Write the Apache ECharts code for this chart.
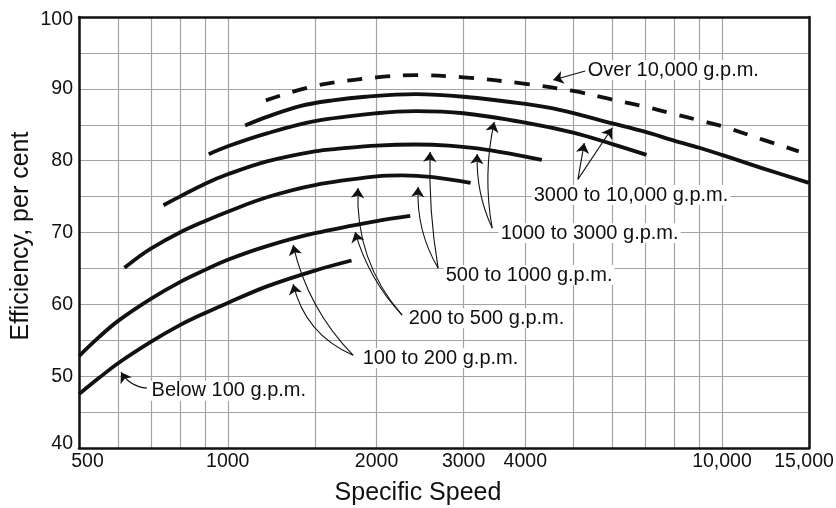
<!DOCTYPE html>
<html><head><meta charset="utf-8">
<script src="https://cdn.jsdelivr.net/npm/echarts@6/dist/echarts.min.js"></script>
<style>html,body{margin:0;padding:0;background:#fff}#c{width:836px;height:508px}</style>
</head><body><div id="c"></div>
<script>
const FONT = '"Liberation Sans", Arial, Helvetica, sans-serif';
const INK = '#111111';
const GRIDC = '#a3a3a3';

// axis values
const xGridValues = [500,600,700,800,900,1000,1500,2000,3000,4000,5000,6000,7000,8000,9000,10000,15000];
const xTickLabels = [500,1000,2000,3000,4000,10000,15000];
const yMin = 40, yMax = 100, yStep = 5;

// curves: [specific speed, efficiency %]
const curveA = [[500,47.5],[550,49.8],[600,51.8],[700,54.8],[800,57.1],[900,58.8],[1000,60.2],[1200,62.5],[1500,64.7],[1780,66.1]];
const curveB = [[500,52.8],[550,55.5],[600,57.7],[700,60.8],[800,63.1],[900,64.8],[1000,66.2],[1200,68.1],[1500,69.9],[2000,71.6],[2340,72.3]];
const curveC = [[618,65.1],[660,66.6],[700,67.8],[800,70.0],[900,71.6],[1000,72.9],[1200,74.9],[1500,76.6],[2000,77.8],[2250,77.95],[2600,77.7],[3100,76.9]];
const curveD = [[741,73.8],[800,75.0],[900,76.8],[1000,78.1],[1200,79.9],[1500,81.3],[1700,81.7],[2000,82.1],[2400,82.25],[2800,82.1],[3200,81.7],[3700,81.0],[4320,80.1]];
const curveE = [[915,80.9],[1000,82.0],[1200,83.8],[1500,85.5],[2000,86.6],[2400,86.9],[3000,86.6],[4000,85.3],[5000,83.9],[6000,82.3],[7035,80.8]];
const curveF = [[1084,84.9],[1200,86.1],[1400,87.6],[1630,88.4],[1900,88.9],[2400,89.25],[3000,88.9],[4000,87.9],[4716,87.05],[6000,85.2],[7000,84.0],[8000,82.8],[9000,81.8],[10000,80.8],[12000,79.0],[15000,76.9]];
const curveOver = [[1194,88.4],[1500,90.4],[2000,91.6],[2400,91.9],[3000,91.6],[4000,90.7],[5000,89.7],[6000,88.5],[7000,87.5],[8000,86.5],[9000,85.6],[10000,84.8],[12000,83.0],[14300,81.3]];

// annotations (data coordinates)
const labelTexts = ['Over 10,000 g.p.m.','3000 to 10,000 g.p.m.','1000 to 3000 g.p.m.','500 to 1000 g.p.m.','200 to 500 g.p.m.','100 to 200 g.p.m.','Below 100 g.p.m.'];
const labelAnchors = [[5288,92.62],[4111,75.21],[3525,69.92],[2728,64.07],[2296,58.08],[1853,52.51],[693,47.98]];
const arrowTails = [[5288,92.48],[5110,77.4],[5110,77.4],[3428,70.61],[3428,70.61],[2665,65.04],[2665,65.04],[2253,58.5],[2253,58.5],[1793,52.92],[1793,52.92],[686,48.33]];
const arrowTips  = [[4555,91.23],[5264,82.45],[5995,84.54],[3197,80.92],[3460,85.38],[2428,76.32],[2567,81.2],[1835,76.18],[1810,70.06],[1356,68.25],[1356,62.81],[608,50.56]];
const arrowBend  = [0,0,0,0.12,0.1,0.15,0.05,0.2,0.12,0.14,0.25,0.25];

const chart = echarts.init(document.getElementById('c'), null, {renderer:'canvas'});

const curveStyle = {color: INK, width: 3.8, cap: 'butt'};
function curveSeries(data, dashed){
  return {
    type:'line', data:data, smooth:0.35, showSymbol:false, symbol:'none', silent:true, z:3,
    lineStyle: dashed ? Object.assign({}, curveStyle, {type:[15,13]}) : curveStyle
  };
}

const tickFont = {color: INK, fontSize: 19.5, fontFamily: FONT, lineHeight: 20};

const option = {
  animation:false,
  backgroundColor:'#fff',
  grid:{left:79, right:27, top:17, bottom:60, containLabel:false, outerBoundsMode:'none'},
  xAxis:[{
    type:'log', logBase:10, min:500, max:15000, position:'bottom',
    axisLine:{show:true, onZero:false, lineStyle:{color:INK, width:2.5}},
    axisTick:{show:false, customValues:xGridValues},
    splitLine:{show:true, lineStyle:{color:GRIDC, width:1.2}},
    minorTick:{show:false}, minorSplitLine:{show:false},
    axisLabel:Object.assign({
      customValues:xTickLabels, margin:4,
      formatter:function(v){
        if (v===500) return '{l|500}';
        if (v===15000) return '{r|15,000}';
        if (v===10000) return '10,000';
        return String(v);
      },
      rich:{
        l:Object.assign({padding:[0,0,0,17]}, tickFont),
        r:Object.assign({padding:[0,10,0,0]}, tickFont)
      }
    }, tickFont)
  },{
    type:'log', logBase:10, min:500, max:15000, position:'top',
    axisLine:{show:true, onZero:false, lineStyle:{color:INK, width:2.5}},
    axisTick:{show:false}, axisLabel:{show:false}, splitLine:{show:false}
  }],
  yAxis:[{
    type:'value', min:yMin, max:yMax, interval:yStep, position:'left',
    axisLine:{show:true, onZero:false, lineStyle:{color:INK, width:2.5}},
    axisTick:{show:false},
    splitLine:{show:true, lineStyle:{color:GRIDC, width:1.2}},
    axisLabel:Object.assign({
      margin:6,
      formatter:function(v){
        if (v % 10 !== 0) return '';
        if (v===40) return '{b|40}';
        if (v===100) return '{t|100}';
        return String(v);
      },
      rich:{
        b:Object.assign({padding:[0,0,9,0]}, tickFont),
        t:Object.assign({padding:[6,0,0,0]}, tickFont)
      }
    }, tickFont)
  },{
    type:'value', min:yMin, max:yMax, interval:yStep, position:'right',
    axisLine:{show:true, onZero:false, lineStyle:{color:INK, width:2.5}},
    axisTick:{show:false}, axisLabel:{show:false}, splitLine:{show:false}
  }],
  graphic:[
    {type:'text', x:418, y:493, silent:true,
     style:{text:'Specific Speed', align:'center', verticalAlign:'middle', fontSize:25, fontFamily:FONT, fill:INK}},
    {type:'text', x:21, y:236, rotation:Math.PI/2, silent:true,
     style:{text:'Efficiency, per cent', align:'center', verticalAlign:'middle', fontSize:25, fontFamily:FONT, fill:INK}}
  ],
  series:[
    curveSeries(curveA), curveSeries(curveB), curveSeries(curveC), curveSeries(curveD),
    curveSeries(curveE), curveSeries(curveF), curveSeries(curveOver, true),
    {
      type:'lines', coordinateSystem:'cartesian2d', xAxisIndex:0, yAxisIndex:0, silent:true, z:5,
      symbol:['none','arrow'], symbolSize:10,
      lineStyle:{color:INK, width:1.1, opacity:1},
      itemStyle:{color:INK},
      data: arrowTails.map(function(t,i){
        return {coords:[t, arrowTips[i]], lineStyle:{curveness:arrowBend[i], color:INK, width:1.1}};
      })
    },
    {
      type:'scatter', silent:true, z:10, symbolSize:1, itemStyle:{color:'rgba(0,0,0,0)', opacity:1},
      label:{show:true, position:'right', distance:0, formatter:'{b}', color:INK, fontSize:20, fontFamily:FONT,
             backgroundColor:'#fff', padding:[0,2]},
      data: labelTexts.map(function(t,i){ return {name:t, value:labelAnchors[i]}; })
    }
  ]
};
chart.setOption(option);
</script>
</body></html>
